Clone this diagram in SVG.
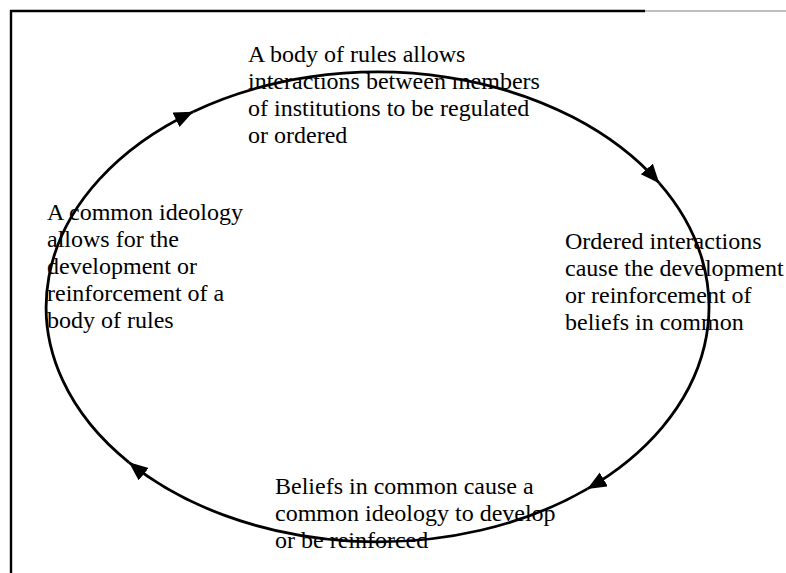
<svg xmlns="http://www.w3.org/2000/svg" width="786" height="573" viewBox="0 0 786 573">
  <style>
    .lbl { font-family: "Liberation Serif", "Times New Roman", serif; font-size: 24px; fill: #000; }
    .cycle { fill: none; stroke: #000; stroke-width: 2.8; }
    .frame { stroke: #000; stroke-width: 2.4; fill: none; }
  </style>
  <defs>
    <marker id="head" markerUnits="userSpaceOnUse" markerWidth="22" markerHeight="18" refX="19" refY="8" orient="auto">
      <path d="M0,0 L19,8 L0,16 Z" fill="#000"/>
    </marker>
  </defs>

  <rect width="786" height="573" fill="#fff"/>

  <!-- page frame -->
  <path class="frame" d="M11,573 L11,11 L645,11"/>
  <path d="M645,11 L786,11" stroke="#aaa" stroke-width="1.5"/>

  <!-- cycle arcs between stages -->
  <g id="connectors">
    <path class="cycle" marker-end="url(#head)" d="M128.9,462.3 A331.5,235 0 0 1 193.2,111.7"/>
    <path class="cycle" marker-end="url(#head)" d="M193.2,111.7 A331.5,235 0 0 1 659.3,183.2"/>
    <path class="cycle" marker-end="url(#head)" d="M659.3,183.2 A331.5,235 0 0 1 587.3,488.9"/>
    <path class="cycle" marker-end="url(#head)" d="M587.3,488.9 A331.5,235 0 0 1 128.9,462.3"/>
  </g>

  <g id="rules">
    <text class="lbl" x="248" y="62">A body of rules allows</text>
    <text class="lbl" x="248" y="89">interactions between members</text>
    <text class="lbl" x="248" y="116">of institutions to be regulated</text>
    <text class="lbl" x="248" y="143">or ordered</text>
  </g>

  <g id="interactions">
    <text class="lbl" x="565" y="249">Ordered interactions</text>
    <text class="lbl" x="565" y="276">cause the development</text>
    <text class="lbl" x="565" y="303">or reinforcement of</text>
    <text class="lbl" x="565" y="330">beliefs in common</text>
  </g>

  <g id="beliefs">
    <text class="lbl" x="275" y="494">Beliefs in common cause a</text>
    <text class="lbl" x="275" y="521">common ideology to develop</text>
    <text class="lbl" x="275" y="548">or be reinforced</text>
  </g>

  <g id="ideology">
    <text class="lbl" x="47" y="220">A common ideology</text>
    <text class="lbl" x="47" y="247">allows for the</text>
    <text class="lbl" x="47" y="274">development or</text>
    <text class="lbl" x="47" y="301">reinforcement of a</text>
    <text class="lbl" x="47" y="328">body of rules</text>
  </g>
</svg>
